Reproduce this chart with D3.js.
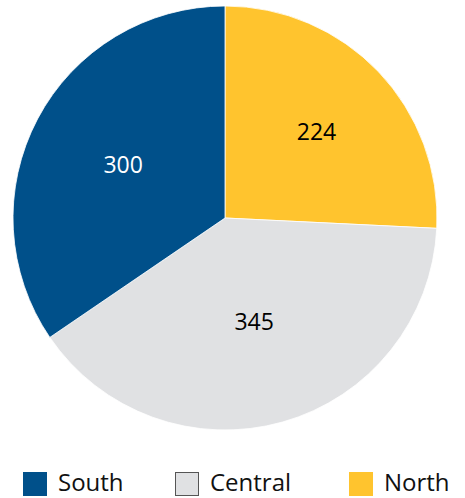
<!DOCTYPE html>
<html>
<head>
<meta charset="utf-8">
<script src="https://cdn.jsdelivr.net/npm/d3@7"></script>
<style>
  body { margin: 0; background: #fff; }
  svg { display: block; }
</style>
</head>
<body>
<div id="chart"></div>
<script>
const regions = ["North", "Central", "South"];
const counts = [224, 345, 300];
const legendOrder = ["South", "Central", "North"];

const width = 465, height = 498;
const cx = 225, cy = 218, radius = 212;

const color = d3.scaleOrdinal()
  .domain(["South", "Central", "North"])
  .range(["#00508a", "#e0e1e3", "#ffc42e"]);

const labelColor = d3.scaleOrdinal()
  .domain(["South", "Central", "North"])
  .range(["#ffffff", "#000000", "#000000"]);

const data = regions.map((r, i) => ({region: r, value: counts[i]}));

const svg = d3.select("#chart").append("svg")
  .attr("width", width).attr("height", height)
  .style("font-family", "'Open Sans', sans-serif");

const pie = d3.pie().sort(null).value(d => d.value);
const arc = d3.arc().innerRadius(0).outerRadius(radius);

const g = svg.append("g").attr("transform", `translate(${cx},${cy})`);

const arcs = pie(data);

g.selectAll("path")
  .data(arcs)
  .join("path")
    .attr("d", arc)
    .attr("fill", d => color(d.data.region))
    .attr("stroke", "#fff")
    .attr("stroke-width", 0.8);

// label sits at the area centroid of each sector
function labelPos(d) {
  const a = d.endAngle - d.startAngle;
  const r = 4 * radius * Math.sin(a / 2) / (3 * a);
  const m = (d.startAngle + d.endAngle) / 2;
  return [r * Math.sin(m), -r * Math.cos(m)];
}

g.selectAll("text")
  .data(arcs)
  .join("text")
    .attr("transform", d => `translate(${labelPos(d)})`)
    .attr("text-anchor", "middle")
    .attr("dominant-baseline", "central")
    .attr("font-size", "23px")
    .attr("fill", d => labelColor(d.data.region))
    .text(d => d.data.value);

// legend
const legendX = d3.scaleOrdinal()
  .domain(legendOrder)
  .range([23, 175, 349]);

const legend = svg.append("g").attr("transform", "translate(0,472)");

const item = legend.selectAll("g")
  .data(legendOrder)
  .join("g")
    .attr("transform", d => `translate(${legendX(d)},0)`);

item.append("rect")
  .attr("x", d => d === "Central" ? 0.5 : 0)
  .attr("y", d => d === "Central" ? 0.5 : 0)
  .attr("width", d => d === "Central" ? 23 : 24)
  .attr("height", d => d === "Central" ? 23 : 24)
  .attr("fill", d => color(d))
  .attr("stroke", d => d === "Central" ? "#555" : "none")
  .attr("stroke-width", 1);

item.append("text")
  .attr("x", 35)
  .attr("y", 19)
  .attr("font-size", "24px")
  .attr("fill", "#111")
  .text(d => d);
</script>
</body>
</html>
